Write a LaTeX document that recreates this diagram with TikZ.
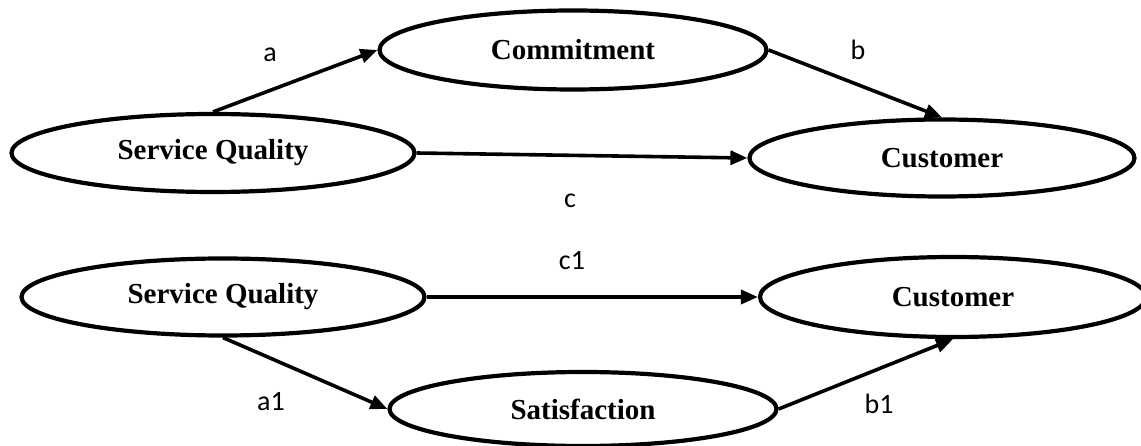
\documentclass[tikz,border=0pt]{standalone}
\usepackage{fontspec}
\setmainfont{Liberation Serif}
\newfontfamily\labelfont{Carlito}
\usetikzlibrary{shapes.geometric,arrows.meta}
\begin{document}
\begin{tikzpicture}[x=1pt,y=-1pt,
  ell/.style={draw, ellipse, line width=4.2pt, inner sep=0pt, font=\fontsize{29}{30}\selectfont\bfseries},
  conn/.style={line width=3.6pt, -{Triangle[length=17pt,width=14pt]}},
  lab/.style={font=\labelfont\fontsize{28}{30}\selectfont, inner sep=0pt}]
\useasboundingbox (0,0) rectangle (1141,446);
\node[ell, minimum width=403pt, minimum height=78pt] (sq1) at (213,153) {Service Quality};
\node[ell, minimum width=387pt, minimum height=79pt] (com) at (573,50) {Commitment};
\node[ell, minimum width=385pt, minimum height=77pt] (cus1) at (942,158) {Customer};
\node[ell, minimum width=403pt, minimum height=77pt] (sq2) at (223,297) {Service Quality};
\node[ell, minimum width=386pt, minimum height=80pt] (cus2) at (953,297) {Customer};
\node[ell, minimum width=387pt, minimum height=74pt] (sat) at (583,409) {Satisfaction};
\draw[conn] (sq1.north) -- (com.west);
\draw[conn] (com.east) -- (cus1.north);
\draw[conn] (sq1.east) -- (cus1.west);
\draw[conn] (sq2.east) -- (cus2.west);
\draw[conn] (sq2.south) -- (sat.west);
\draw[conn] (sat.east) -- (cus2.south);
\node[lab] (la) at (270,55) {a};
\node[lab] (lb) at (858,50) {b};
\node[lab] (lc) at (570,201) {c};
\node[lab] (lc1) at (572,261) {c1};
\node[lab] (la1) at (271,402) {a1};
\node[lab] (lb1) at (879,404) {b1};
\end{tikzpicture}
\end{document}
